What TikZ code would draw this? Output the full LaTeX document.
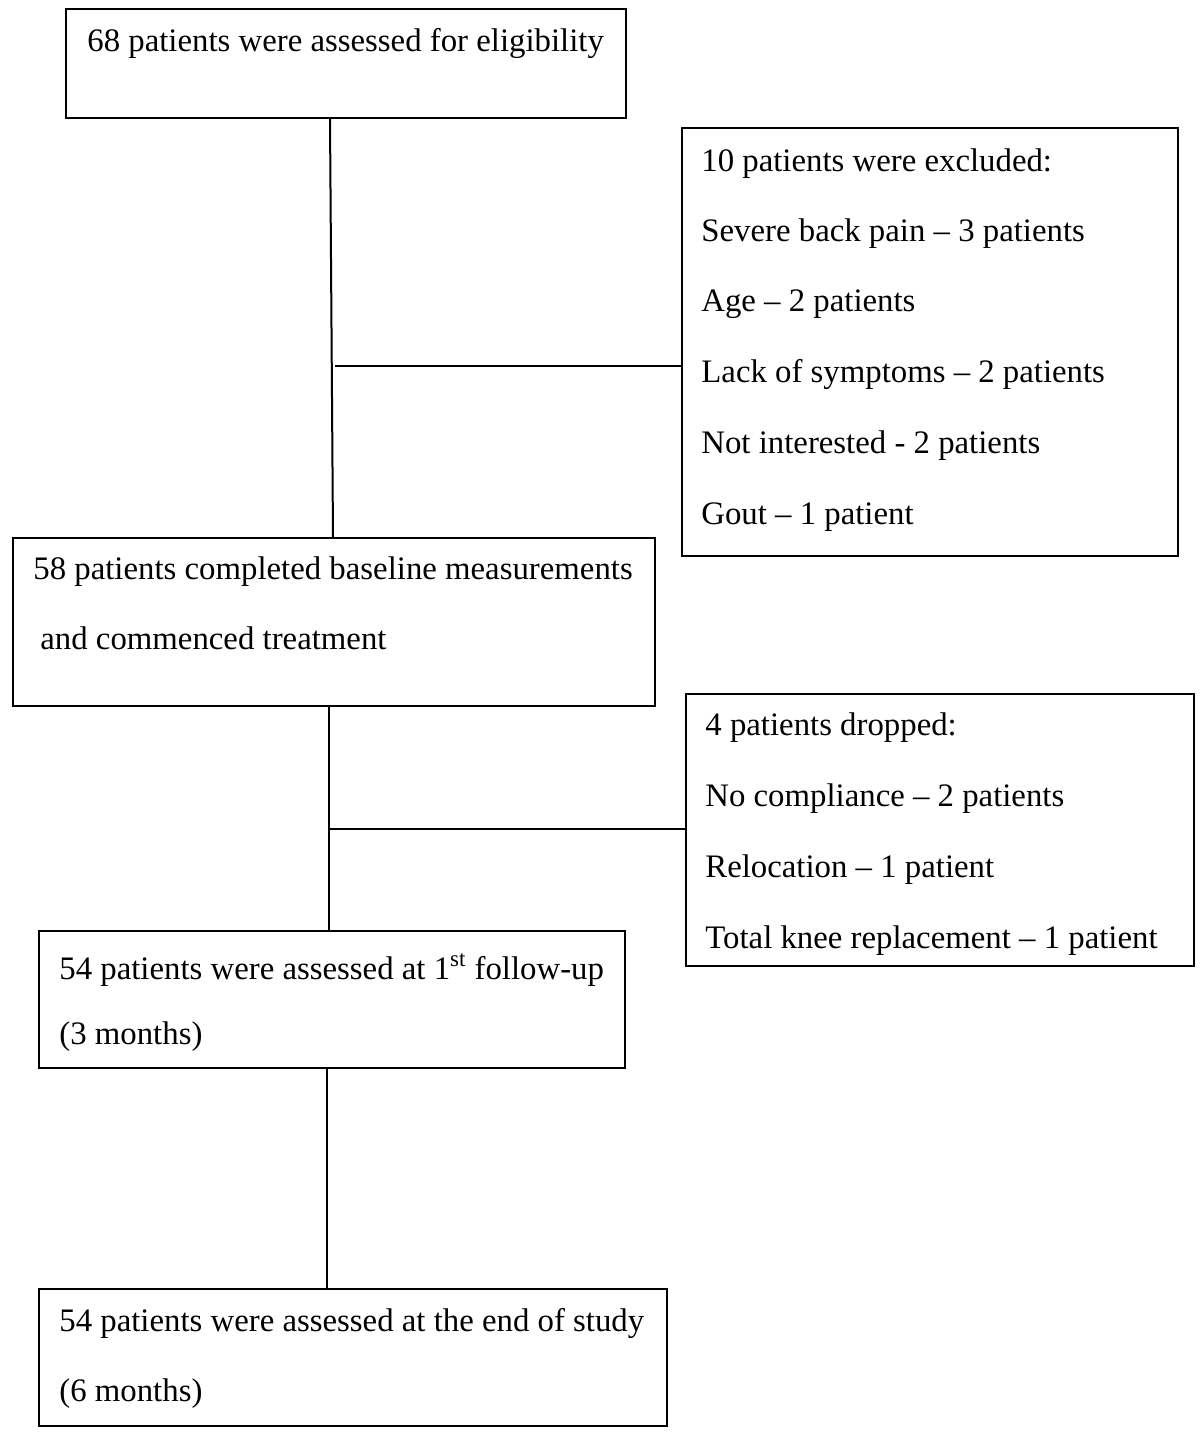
\documentclass[tikz,border=0pt]{standalone}
\usepackage{fontspec}
\setmainfont{Liberation Serif}
\tikzset{flow box/.style={
    draw, line width=1pt, inner sep=0pt, anchor=north west,
  },
  flow text/.style={
    anchor=base west, inner sep=0pt,
    font=\fontsize{16.4}{20}\selectfont,
  },
  flow line/.style={line width=1pt},
}

\begin{document}
\begin{tikzpicture}[x=0.5pt,y=-0.5pt]
\useasboundingbox (0,0) rectangle (1200,1432);
% boxes
\node[flow box,minimum width=280pt,minimum height=54.5pt] (assessed) at (65,8) {};
\node[flow box,minimum width=248pt,minimum height=214pt] (excluded) at (681,127) {};
\node[flow box,minimum width=321pt,minimum height=84pt] (baseline) at (12,537) {};
\node[flow box,minimum width=254pt,minimum height=136pt] (dropped) at (685,693) {};
\node[flow box,minimum width=293pt,minimum height=68.5pt] (followup) at (38,930) {};
\node[flow box,minimum width=314pt,minimum height=68.5pt] (endstudy) at (38,1288) {};
% texts
\node[flow text] (assessed text) at (87,51) {68 patients were assessed for eligibility};
\node[flow text] (excluded head) at (701,171) {10 patients were excluded:};
\foreach \y/\reason in
  {241/Severe back pain -- 3 patients, 311/Age -- 2 patients,
   382/Lack of symptoms -- 2 patients, 453/Not interested - 2 patients,
   524/Gout -- 1 patient}
  \node[flow text] at (701,\y) {\reason};
\node[flow text] (baseline text) at (33,579) {58 patients completed baseline measurements};
\node[flow text] (baseline text2) at (40,649) {and commenced treatment};
\node[flow text] (dropped head) at (705,735) {4 patients dropped:};
\foreach \y/\reason in
  {806/No compliance -- 2 patients, 877/Relocation -- 1 patient,
   948/Total knee replacement -- 1 patient}
  \node[flow text] at (705,\y) {\reason};
\node[flow text] (followup text) at (59,979) {54 patients were assessed at 1\textsuperscript{st} follow-up};
\node[flow text] (followup text2) at (59,1044) {(3 months)};
\node[flow text] (endstudy text) at (59,1331) {54 patients were assessed at the end of study};
\node[flow text] (endstudy text2) at (59,1401) {(6 months)};
% connectors
\coordinate (split1) at (335,366);
\coordinate (split2) at (329,829);
\draw[flow line] (assessed.south -| 330,0) -- (baseline.north -| 333,0);
\draw[flow line] (split1) -- (excluded.west |- split1);
\draw[flow line] (baseline.south -| 329,0) -- (followup.north -| 329,0);
\draw[flow line] (split2) -- (dropped.west |- split2);
\draw[flow line] (followup.south -| 327,0) -- (endstudy.north -| 327,0);
\end{tikzpicture}
\end{document}
